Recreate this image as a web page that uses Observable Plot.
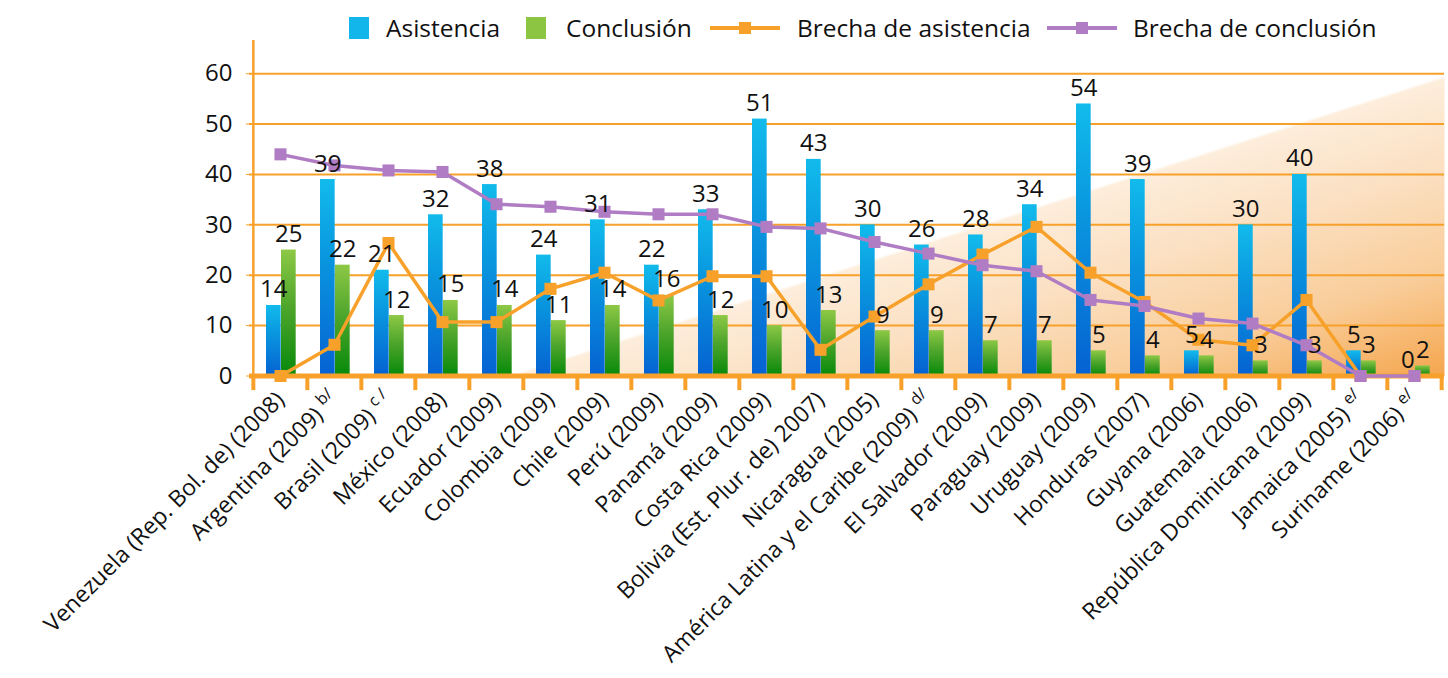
<!DOCTYPE html>
<html><head><meta charset="utf-8">
<script src="https://cdn.jsdelivr.net/npm/d3@7"></script>
<script src="https://cdn.jsdelivr.net/npm/@observablehq/plot@0.6"></script>
<style>
body{margin:0;background:#fff;font-family:"Open Sans",sans-serif;}
#legend{position:relative;height:40px;width:1448px;font-size:24.5px;color:#111;}
#legend .sw{position:absolute;}
#legend .tx{position:absolute;top:12px;line-height:32px;white-space:nowrap;}
#chart svg{display:block;font-family:"Open Sans",sans-serif;}
</style></head><body>
<div id="legend"></div>
<div id="chart"></div>
<script>
// ---- data ----
const categories = ["Venezuela (Rep. Bol. de) (2008)", "Argentina (2009) b/", "Brasil (2009) c /", "México (2008)", "Ecuador (2009)", "Colombia (2009)", "Chile (2009)", "Perú (2009)", "Panamá (2009)", "Costa Rica (2009)", "Bolivia (Est. Plur. de) 2007)", "Nicaragua (2005)", "América Latina y el Caribe (2009) d/", "El Salvador (2009)", "Paraguay (2009)", "Uruguay (2009)", "Honduras (2007)", "Guyana (2006)", "Guatemala (2006)", "República Dominicana (2009)", "Jamaica (2005) e/", "Suriname (2006) e/"];
const asistencia = [14, 39, 21, 32, 38, 24, 31, 22, 33, 51, 43, 30, 26, 28, 34, 54, 39, 5, 30, 40, 5, 0];
const conclusion = [25, 22, 12, 15, 14, 11, 14, 16, 12, 10, 13, 9, 9, 7, 7, 5, 4, 4, 3, 3, 3, 2];
const brechaAsistencia = [0, 6.2, 26.4, 10.7, 10.7, 17.3, 20.5, 15.0, 19.8, 19.8, 5.2, 11.8, 18.2, 24.1, 29.6, 20.5, 14.7, 7.2, 6.1, 15.1, 0, 0];
const brechaConclusion = [44.0, 41.8, 40.8, 40.5, 34.1, 33.6, 32.6, 32.1, 32.1, 29.6, 29.3, 26.6, 24.3, 22.0, 20.8, 15.1, 13.9, 11.4, 10.4, 6.1, 0, 0];
const yTicks = [0, 10, 20, 30, 40, 50, 60];
const seriesNames = ["Asistencia", "Conclusión", "Brecha de asistencia", "Brecha de conclusión"];

// ---- style ----
const ORANGE = "#F7A12A", PURPLE = "#B07CC3", BLUE = "#12B6EA", GREEN = "#8CC541";
const W = 1448, H = 638, mL = 249, mR = 4, mT = 0, mB = 302.5, yMax = 66.6;
const bw = (W - mL - mR) / categories.length;

// ---- legend (HTML) ----
const legend = document.getElementById("legend");
const legendItems = [
  {name: seriesNames[0], type: "bar", color: BLUE, sx: 349, tx: 386},
  {name: seriesNames[1], type: "bar", color: GREEN, sx: 526, tx: 566},
  {name: seriesNames[2], type: "line", color: ORANGE, sx: 710, tx: 797},
  {name: seriesNames[3], type: "line", color: PURPLE, sx: 1047, tx: 1133}
];
for (const it of legendItems) {
  if (it.type === "bar") {
    const s = document.createElement("div");
    s.className = "sw";
    Object.assign(s.style, {left: it.sx + "px", top: "17px", width: "20px", height: "22px", background: it.color});
    legend.appendChild(s);
  } else {
    const ns = "http://www.w3.org/2000/svg";
    const s = document.createElementNS(ns, "svg");
    s.setAttribute("class", "sw");
    s.setAttribute("width", 70); s.setAttribute("height", 24);
    s.style.left = it.sx + "px"; s.style.top = "16px";
    const l = document.createElementNS(ns, "line");
    l.setAttribute("x1", 0); l.setAttribute("x2", 70); l.setAttribute("y1", 12); l.setAttribute("y2", 12);
    l.setAttribute("stroke", it.color); l.setAttribute("stroke-width", 4);
    const r = document.createElementNS(ns, "rect");
    r.setAttribute("x", 29); r.setAttribute("y", 6); r.setAttribute("width", 12); r.setAttribute("height", 12);
    r.setAttribute("fill", it.color);
    s.appendChild(l); s.appendChild(r);
    legend.appendChild(s);
  }
  const t = document.createElement("div");
  t.className = "tx"; t.style.left = it.tx + "px"; t.textContent = it.name;
  legend.appendChild(t);
}

// ---- chart ----
const data = categories.map((c, i) => ({cat: c, a: asistencia[i], c: conclusion[i], ba: brechaAsistencia[i], bc: brechaConclusion[i]}));

const plot = Plot.plot({
  width: W, height: H,
  marginLeft: mL, marginRight: mR, marginTop: mT, marginBottom: mB,
  x: {domain: categories, padding: 0, label: null},
  y: {domain: [0, yMax], label: null},
  marks: [
    Plot.frame({fill: "url(#bgGrad)", stroke: "none"}),
    Plot.ruleY(yTicks.filter(d => d > 0), {stroke: ORANGE, strokeWidth: 2}),
    Plot.barY(data, {x: "cat", y: "a", fill: "url(#gBlue)", insetLeft: 13, insetRight: bw - 28}),
    Plot.barY(data, {x: "cat", y: "c", fill: "url(#gGreen)", insetLeft: 28, insetRight: bw - 43}),
    Plot.ruleX([categories[0]], {dx: -bw / 2, y1: 0, y2: yMax, stroke: ORANGE, strokeWidth: 2.5}),
    Plot.ruleY([0], {stroke: ORANGE, strokeWidth: 5}),
    Plot.ruleX(categories, {dx: -bw / 2, y1: 0, y2: -2.9, stroke: ORANGE, strokeWidth: 4}),
    Plot.ruleX([categories[categories.length - 1]], {dx: bw / 2, y1: 0, y2: -2.9, stroke: ORANGE, strokeWidth: 4}),
    Plot.line(data, {x: "cat", y: "ba", stroke: ORANGE, strokeWidth: 3.5}),
    Plot.dot(data, {x: "cat", y: "ba", symbol: "square", r: 6.8, fill: ORANGE}),
    Plot.line(data, {x: "cat", y: "bc", stroke: PURPLE, strokeWidth: 3.5}),
    Plot.dot(data, {x: "cat", y: "bc", symbol: "square", r: 6.8, fill: PURPLE}),
    Plot.text(data, {x: "cat", y: "a", text: d => String(d.a), dx: 20.5 - bw / 2, dy: -8, lineAnchor: "bottom", fontSize: 24, fill: "#111"}),
    Plot.text(data, {x: "cat", y: "c", text: d => String(d.c), dx: 35.5 - bw / 2, dy: -8, lineAnchor: "bottom", fontSize: 24, fill: "#111"}),
    Plot.axisY({ticks: yTicks, tickSize: 3, tickPadding: 14, fontSize: 24, stroke: ORANGE, fill: "#111", label: null}),
    Plot.axisX({tickRotate: -45, tickSize: 0, tickPadding: 20, fontSize: 23, fill: "#111", label: null})
  ]
});

// gradients
const svg = d3.select(plot);
const defs = svg.insert("defs", ":first-child");
const gb = defs.append("linearGradient").attr("id", "gBlue").attr("x1", 0).attr("y1", 0).attr("x2", 0).attr("y2", 1);
gb.append("stop").attr("offset", "0%").attr("stop-color", "#12BBEC");
gb.append("stop").attr("offset", "35%").attr("stop-color", "#0A9BE0");
gb.append("stop").attr("offset", "100%").attr("stop-color", "#0562D2");
const gg = defs.append("linearGradient").attr("id", "gGreen").attr("x1", 0).attr("y1", 0).attr("x2", 0).attr("y2", 1);
gg.append("stop").attr("offset", "0%").attr("stop-color", "#8DC845");
gg.append("stop").attr("offset", "45%").attr("stop-color", "#4FA62C");
gg.append("stop").attr("offset", "100%").attr("stop-color", "#07890A");
// background: white upper-left, warming to orange towards bottom right
const ex = W - mR, ey = 35;                       // a point on the sheen edge
const nx = 0.305, ny = 0.952, dist = 285;          // normal to the edge
const bg = defs.append("linearGradient").attr("id", "bgGrad").attr("gradientUnits", "userSpaceOnUse")
  .attr("x1", ex).attr("y1", ey).attr("x2", ex + nx * dist).attr("y2", ey + ny * dist);
bg.append("stop").attr("offset", "0").attr("stop-color", "#FFFFFF");
bg.append("stop").attr("offset", "0.012").attr("stop-color", "#FDEDDB");
bg.append("stop").attr("offset", "0.3").attr("stop-color", "#FBE0C2");
bg.append("stop").attr("offset", "0.65").attr("stop-color", "#F9CD9A");
bg.append("stop").attr("offset", "1").attr("stop-color", "#F5A64E");

// superscript notes on x tick labels
svg.selectAll('g[aria-label="x-axis tick label"] text').each(function() {
  const t = this.textContent;
  const m = t.match(/^(.*\))\s+(b\/|c \/|d\/|e\/)$/);
  if (m) {
    this.textContent = m[1] + " ";
    d3.select(this).append("tspan").attr("font-size", "0.7em").attr("dy", "-0.55em").text(m[2]);
  }
});

document.getElementById("chart").appendChild(plot);
</script>
</body></html>
